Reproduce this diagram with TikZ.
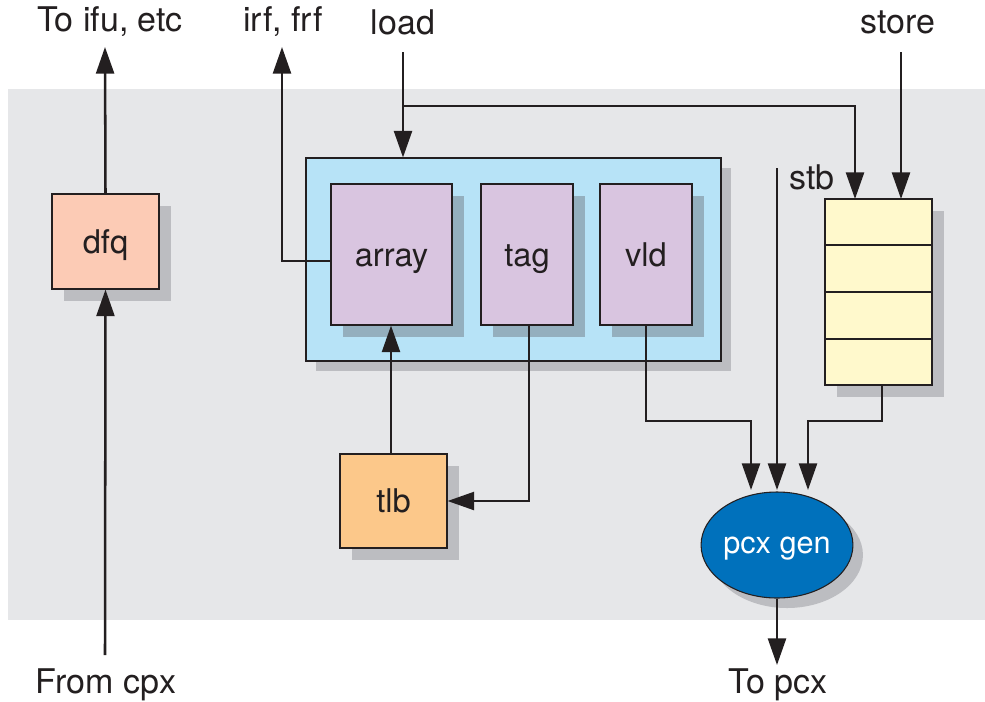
\documentclass[tikz,border=0pt]{standalone}
\usepackage{fontspec}
\setmainfont{TeX Gyre Heros}
\usetikzlibrary{arrows.meta,shadows,shapes.geometric}
\definecolor{bggray}{HTML}{E6E7E9}
\definecolor{shgray}{HTML}{BCBDC1}
\definecolor{shblue}{HTML}{94AFBE}
\definecolor{dfqc}{HTML}{FCCBB5}
\definecolor{bluebox}{HTML}{B7E3F7}
\definecolor{purp}{HTML}{D9C5E0}
\definecolor{tlbc}{HTML}{FCC88A}
\definecolor{stbc}{HTML}{FFF9CC}
\definecolor{pcxc}{HTML}{0071BC}
\definecolor{ink}{HTML}{231F20}
\tikzset{
  blk/.style={draw=ink, line width=0.8pt, inner sep=0pt, font=\fontsize{24.5}{28}\selectfont, text=ink, text height=17.6pt, text depth=0pt},
  shd/.style={drop shadow={shadow xshift=9pt, shadow yshift=-9pt, fill=shgray, opacity=1}},
  shdin/.style={drop shadow={shadow xshift=9pt, shadow yshift=-9pt, fill=shblue, opacity=1}},
  lbl/.style={font=\fontsize{25.5}{30}\selectfont, text=ink, inner sep=0pt},
  wire/.style={draw=ink, line width=1.9pt},
  arr/.style={wire, -{Triangle[length=20pt,width=13.5pt]}},
}
\begin{document}
\begin{tikzpicture}[x=0.75pt,y=-0.75pt]
\useasboundingbox (0,0) rectangle (985,701);
\fill[bggray] (8,89) rectangle (985,620);

% blocks
\node[blk, shd, fill=dfqc, minimum width=80.25pt, minimum height=71.25pt] (dfq) at (105.5,241.5) {dfq};
\node[blk, drop shadow={shadow xshift=7.5pt, shadow yshift=-7.5pt, fill=shgray, opacity=1}, fill=bluebox, minimum width=311.25pt, minimum height=152.25pt] (dcache) at (513.5,259.5) {};
\node[blk, shdin, fill=purp, minimum width=90.75pt, minimum height=105.75pt] (array) at (391.5,254.5) {array};
\node[blk, shdin, fill=purp, minimum width=69pt, minimum height=105.75pt] (tag) at (527,254.5) {tag};
\node[blk, shdin, fill=purp, minimum width=69pt, minimum height=105.75pt] (vld) at (646,254.5) {vld};
\node[blk, shd, fill=stbc, minimum width=80.25pt, minimum height=139.5pt] (stb) at (878.5,292) {};
\draw[ink, line width=0.8pt] (825,245) -- (932,245) (825,292) -- (932,292) (825,339) -- (932,339);
\node[blk, shd, fill=tlbc, minimum width=80.25pt, minimum height=70.5pt] (tlb) at (393.5,501) {tlb};
\node[blk, ellipse, drop shadow={shadow xshift=7.5pt, shadow yshift=-7.5pt, fill=shgray, opacity=1}, fill=pcxc, text=white, font=\fontsize{23}{27}\selectfont, text height=12pt, minimum width=105pt, minimum height=79.5pt] (pcx) at (777,545) {pcx gen};

% labels
\node[lbl] (ifu) at (110,22) {To ifu, etc};
\node[lbl] (irf) at (283,22) {irf, frf};
\node[lbl] (load) at (403,22) {load};
\node[lbl] (store) at (898,22) {store};
\node[lbl] (stbl) at (812,177) {stb};
\node[lbl] (cpx) at (106,685) {From cpx};
\node[lbl] (topcx) at (778,685) {To pcx};

% free ends
\coordinate (ifuE) at (105,47);
\coordinate (irfE) at (282,47);
\coordinate (loadS) at (403,52);
\coordinate (loadB) at (403,106);
\coordinate (storeS) at (901,52);
\coordinate (stbS) at (777,168);
\coordinate (cpxS) at (105,655);
\coordinate (pcxE) at (777,665);

% connectors
\draw[arr] (dfq.north) -- (ifuE);
\draw[arr] (cpxS) -- (dfq.south);
\draw[arr] (array.west |- 0,261) -| (irfE);
\draw[arr] (loadS) -- (dcache.north -| loadS);
\draw[arr] (loadB) -| (855,199);
\draw[arr] (storeS) -- (901,199);
\draw[arr] (stbS) -- (777,490);
\draw[arr] (vld.south) |- (700,421) -| (751,490);
\draw[arr] (882,385) |- (845,421) -| (808,490);
\draw[arr] (tag.south -| 529,0) |- (tlb.east);
\draw[arr] (tlb.north -| 391,0) -- (array.south -| 391,0);
\draw[arr] (pcx.south) -- (pcxE);
\end{tikzpicture}
\end{document}
